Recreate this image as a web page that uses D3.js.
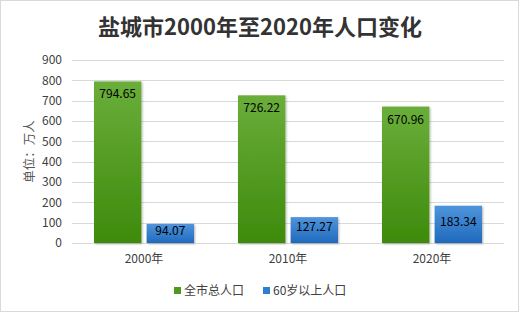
<!DOCTYPE html>
<html>
<head>
<meta charset="utf-8">
<script src="https://cdn.jsdelivr.net/npm/d3@7"></script>
<style>
  body { margin: 0; background: #fff; }
  svg text { font-family: "Noto Sans CJK SC", "DejaVu Sans", sans-serif; }
</style>
</head>
<body>
<svg id="chart" width="519" height="312"></svg>
<script>
// Data
var years = ["2000年", "2010年", "2020年"];
var seriesNames = ["全市总人口", "60岁以上人口"];
var totalPop = [794.65, 726.22, 670.96];
var elderPop = [94.07, 127.27, 183.34];
var yTicks = [0, 100, 200, 300, 400, 500, 600, 700, 800, 900];

var width = 519, height = 312;
var svg = d3.select("#chart");

// Gradients
var defs = svg.append("defs");
var gGreen = defs.append("linearGradient").attr("id", "gGreen").attr("x1", 0).attr("y1", 0).attr("x2", 0).attr("y2", 1);
gGreen.append("stop").attr("offset", "0%").attr("stop-color", "#6aae3a");
gGreen.append("stop").attr("offset", "100%").attr("stop-color", "#3e8a0c");
var gBlue = defs.append("linearGradient").attr("id", "gBlue").attr("x1", 0).attr("y1", 0).attr("x2", 0).attr("y2", 1);
gBlue.append("stop").attr("offset", "0%").attr("stop-color", "#4f95dc");
gBlue.append("stop").attr("offset", "100%").attr("stop-color", "#1f6abd");
var shadow = defs.append("filter").attr("id", "shadow").attr("x", "-20%").attr("y", "-20%").attr("width", "150%").attr("height", "150%");
shadow.append("feDropShadow").attr("dx", 1).attr("dy", 1).attr("stdDeviation", 1).attr("flood-color", "#000").attr("flood-opacity", 0.3);

// Border
svg.append("rect")
	.attr("x", 0.5).attr("y", 0.5)
	.attr("width", width - 1).attr("height", height - 1)
	.attr("fill", "white")
	.attr("stroke", "#d9d9d9");

// Title
svg.append("text")
	.attr("x", 260).attr("y", 35)
	.attr("text-anchor", "middle")
	.style("font-size", "22px")
	.style("font-weight", "bold")
	.attr("fill", "#333333")
	.text("盐城市2000年至2020年人口变化");

// Scales
var plot = {left: 72, right: 504, top: 60, bottom: 243};
var x = d3.scaleBand().domain(years).range([plot.left, plot.right]).paddingInner(0).paddingOuter(0);
var y = d3.scaleLinear().domain([0, 900]).range([plot.bottom, plot.top]);
var inner = d3.scaleBand().domain([0, 1]).range([22, x.bandwidth() - 22]).paddingInner(0.1);

// Grid
svg.append("g").selectAll("line")
	.data(yTicks)
	.join("line")
	.attr("x1", plot.left).attr("x2", plot.right)
	.attr("y1", function(d){ return Math.round(y(d)) + 0.5; })
	.attr("y2", function(d){ return Math.round(y(d)) + 0.5; })
	.attr("stroke", "#d9d9d9").attr("stroke-width", 1);

// y tick labels
svg.append("g").selectAll("text")
	.data(yTicks)
	.join("text")
	.attr("x", 62)
	.attr("y", function(d){ return y(d); })
	.attr("dy", "0.35em")
	.attr("text-anchor", "end")
	.style("font-size", "12px")
	.attr("fill", "#404040")
	.text(function(d){ return d; });

// y axis title
svg.append("text")
	.attr("transform", "translate(34," + ((plot.top + plot.bottom) / 2) + ") rotate(-90)")
	.attr("text-anchor", "middle")
	.style("font-size", "12.5px")
	.attr("fill", "#595959")
	.text("单位：万人");

// x labels
svg.append("g").selectAll("text")
	.data(years)
	.join("text")
	.attr("x", function(d){ return x(d) + x.bandwidth() / 2; })
	.attr("y", 263)
	.attr("text-anchor", "middle")
	.style("font-size", "12px")
	.attr("fill", "#404040")
	.text(function(d){ return d; });

// Bars
var groups = svg.append("g").selectAll("g")
	.data(years)
	.join("g")
	.attr("transform", function(d){ return "translate(" + x(d) + ",0)"; });

groups.append("rect")
	.attr("x", inner(0))
	.attr("width", inner.bandwidth())
	.attr("y", function(d, i){ return y(totalPop[i]); })
	.attr("height", function(d, i){ return y(0) - y(totalPop[i]); })
	.attr("fill", "url(#gGreen)")
	.attr("filter", "url(#shadow)");

groups.append("rect")
	.attr("x", inner(1))
	.attr("width", inner.bandwidth())
	.attr("y", function(d, i){ return y(elderPop[i]); })
	.attr("height", function(d, i){ return y(0) - y(elderPop[i]); })
	.attr("fill", "url(#gBlue)")
	.attr("filter", "url(#shadow)");

// Value labels
groups.append("text")
	.attr("x", inner(0) + inner.bandwidth() / 2)
	.attr("y", function(d, i){ return y(totalPop[i]) + 17; })
	.attr("text-anchor", "middle")
	.style("font-size", "12px")
	.attr("fill", "#000")
	.text(function(d, i){ return totalPop[i].toFixed(2); });

groups.append("text")
	.attr("x", inner(1) + inner.bandwidth() / 2)
	.attr("y", function(d, i){ return (y(elderPop[i]) + y(0)) / 2 - 3; })
	.attr("dy", "0.35em")
	.attr("text-anchor", "middle")
	.style("font-size", "12px")
	.attr("fill", "#000")
	.text(function(d, i){ return elderPop[i].toFixed(2); });

// Legend
var legendPos = [{x: 174, fill: "#4e9a1e"}, {x: 263, fill: "#2f7fd0"}];
var legend = svg.append("g").selectAll("g")
	.data(seriesNames)
	.join("g")
	.attr("transform", function(d, i){ return "translate(" + legendPos[i].x + ",291)"; });
legend.append("rect")
	.attr("x", 0).attr("y", -4)
	.attr("width", 7).attr("height", 7)
	.attr("fill", function(d, i){ return legendPos[i].fill; });
legend.append("text")
	.attr("x", 10).attr("y", 0)
	.attr("dy", "0.35em")
	.style("font-size", "12px")
	.attr("fill", "#404040")
	.text(function(d){ return d; });
</script>
</body>
</html>
